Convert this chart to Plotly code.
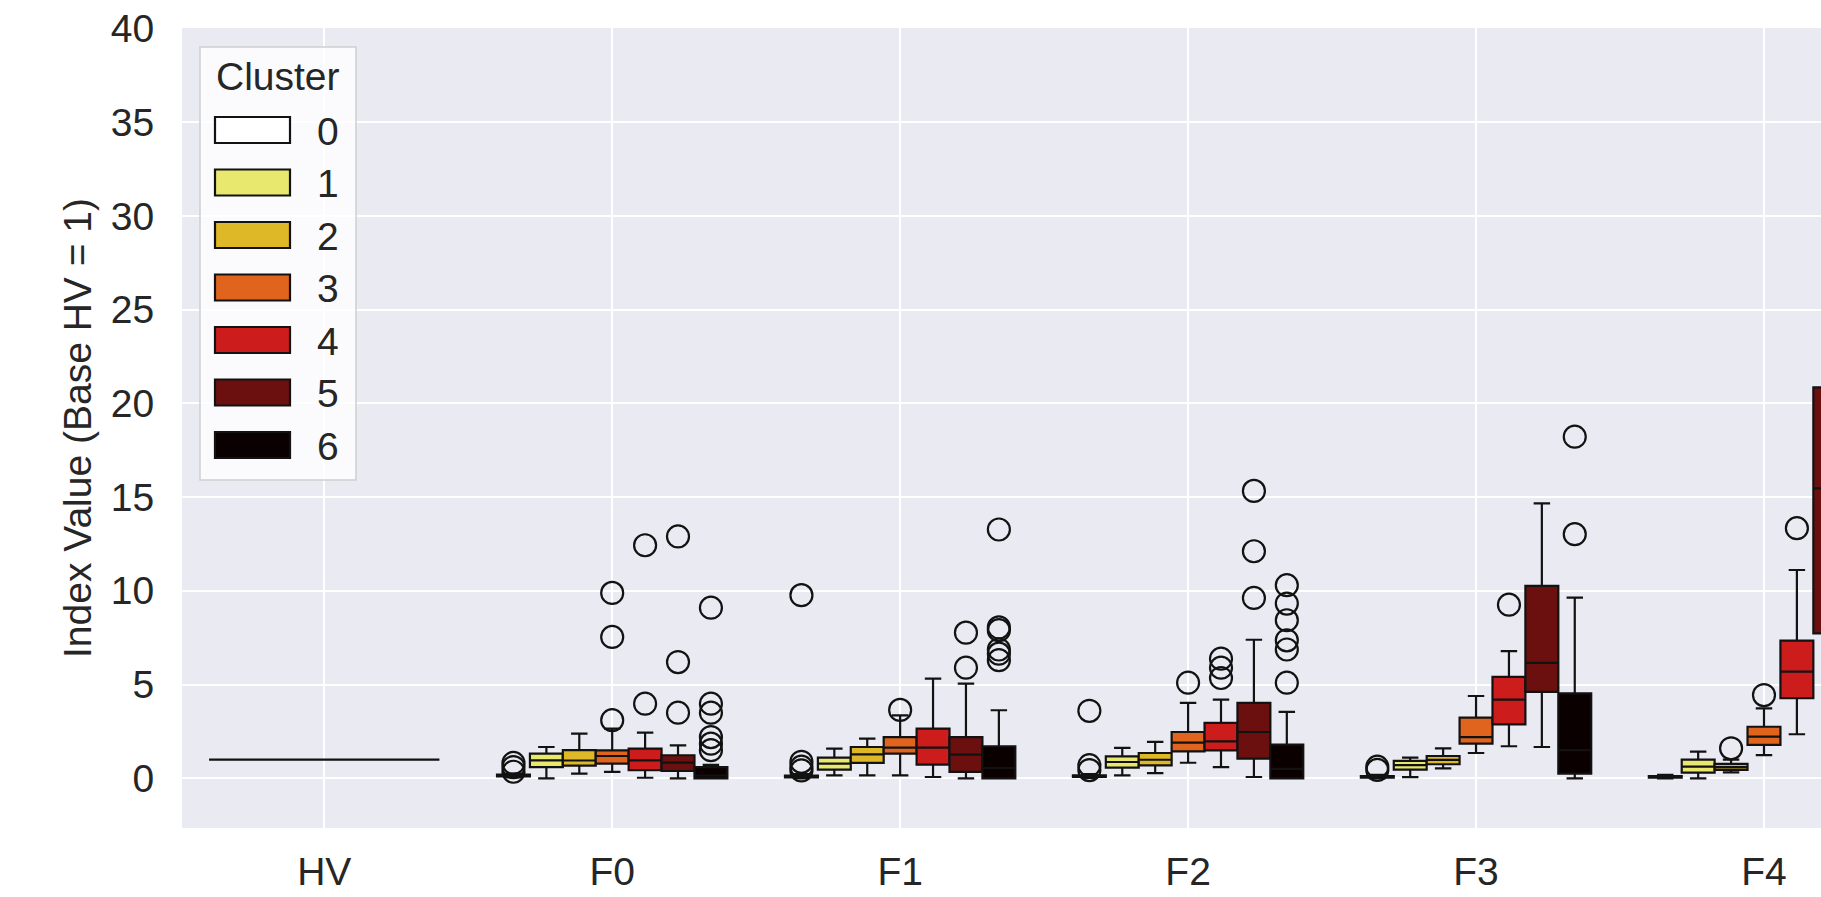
import plotly.graph_objects as go

# ---------------- data ----------------
categories = ["HV", "F0", "F1", "F2", "F3", "F4"]
f_cats = ["F0", "F1", "F2", "F3", "F4"]
clusters = ["0", "1", "2", "3", "4", "5", "6"]
cluster_colors = ["#ffffff", "#e8e86e", "#deb826", "#e0641e", "#cd1c1c", "#6b0f0f", "#0b0000"]

hv_value = [1.0]

# rows = clusters 0..6, columns = F0..F4 (None = not present)
q1 = [
    [0.10, 0.05, 0.07, 0.04, 0.03],
    [0.60, 0.46, 0.57, 0.46, 0.30],
    [0.68, 0.82, 0.69, 0.75, 0.45],
    [0.78, 1.32, 1.44, 1.85, 1.78],
    [0.43, 0.73, 1.49, 2.88, 4.27],
    [0.39, 0.34, 1.05, 4.61, 7.73],
    [0.00, 0.00, 0.00, 0.25, None],
]
median = [
    [0.15, 0.10, 0.12, 0.08, 0.07],
    [0.96, 0.78, 0.87, 0.70, 0.62],
    [0.95, 1.28, 0.99, 0.98, 0.60],
    [1.19, 1.64, 1.90, 2.20, 2.22],
    [0.96, 1.64, 1.97, 4.20, 5.69],
    [0.84, 1.26, 2.47, 6.16, 15.47],
    [0.15, 0.55, 0.50, 1.50, None],
]
q3 = [
    [0.20, 0.15, 0.16, 0.12, 0.12],
    [1.32, 1.10, 1.17, 0.93, 1.00],
    [1.50, 1.67, 1.35, 1.19, 0.77],
    [1.49, 2.20, 2.47, 3.24, 2.75],
    [1.58, 2.65, 2.96, 5.41, 7.34],
    [1.23, 2.20, 4.02, 10.26, 20.85],
    [0.60, 1.71, 1.80, 4.53, None],
]
lower_whisker = [
    [0.05, 0.00, 0.02, 0.00, 0.00],
    [0.00, 0.16, 0.16, 0.06, 0.00],
    [0.25, 0.16, 0.28, 0.53, 0.32],
    [0.34, 0.16, 0.83, 1.35, 1.24],
    [0.03, 0.07, 0.60, 1.71, 2.35],
    [0.00, 0.00, 0.07, 1.67, 2.50],
    [0.00, 0.00, 0.00, 0.00, None],
]
upper_whisker = [
    [0.25, 0.22, 0.22, 0.18, 0.18],
    [1.67, 1.58, 1.62, 1.10, 1.42],
    [2.38, 2.12, 1.94, 1.60, 1.00],
    [2.65, 3.36, 4.02, 4.39, 3.73],
    [2.44, 5.32, 4.20, 6.78, 11.11],
    [1.76, 5.05, 7.39, 14.66, 38.40],
    [0.72, 3.63, 3.54, 9.64, None],
]
outliers = [
    [[0.35, 0.60, 0.82], [0.42, 0.62, 0.88, 9.77], [0.44, 0.70, 3.60], [0.45, 0.62], []],
    [[], [], [], [], []],
    [[], [], [], [], [1.60]],
    [[3.10, 7.54, 9.89], [3.65], [5.10], [], [4.44]],
    [[3.98, 12.43], [], [5.35, 5.90, 6.38], [9.26], [13.34]],
    [[3.50, 6.20, 12.90], [5.90, 7.77], [9.62, 12.11, 15.33], [], []],
    [[1.50, 1.85, 2.20, 3.50, 3.98, 9.10], [6.30, 6.65, 6.87, 7.90, 8.05, 13.27],
     [5.10, 6.87, 7.36, 8.43, 9.32, 10.30], [13.02, 18.22], []],
]

y_ticks = [0, 5, 10, 15, 20, 25, 30, 35, 40]

# ---------------- styling ----------------
W, H = 1821, 897
ML, MR, MT, MB = 182, 0, 28, 69
TEXT = "#262626"
EDGE = "#121212"
FONT = "Liberation Sans, Arial, Helvetica, sans-serif"
FS = 39
LW = 2.2

fig = go.Figure()

# HV reference: degenerate box, alone in its own alignment group (full width)
fig.add_trace(go.Box(
    x=["HV"], q1=hv_value, median=hv_value, q3=hv_value,
    lowerfence=hv_value, upperfence=hv_value,
    fillcolor="rgba(0,0,0,0)", line=dict(color=EDGE, width=LW),
    alignmentgroup="hv", offsetgroup="hv", showlegend=False, name="HV",
))

for k, c in enumerate(clusters):
    idx = [i for i, v in enumerate(q1[k]) if v is not None]
    fig.add_trace(go.Box(
        x=[f_cats[i] for i in idx],
        q1=[q1[k][i] for i in idx],
        median=[median[k][i] for i in idx],
        q3=[q3[k][i] for i in idx],
        lowerfence=[lower_whisker[k][i] for i in idx],
        upperfence=[upper_whisker[k][i] for i in idx],
        fillcolor=cluster_colors[k],
        line=dict(color=EDGE, width=LW),
        whiskerwidth=0.5,
        boxpoints=False,
        alignmentgroup="clusters", offsetgroup=c,
        name=c, showlegend=False,
    ))
    ox, oy = [], []
    for i, vals in enumerate(outliers[k]):
        for v in vals:
            ox.append(f_cats[i])
            oy.append(v)
    if oy:
        fig.add_trace(go.Box(
            x=ox, y=oy,
            boxpoints="all", jitter=0, pointpos=0,
            fillcolor="rgba(0,0,0,0)",
            line=dict(color="rgba(0,0,0,0)", width=0),
            marker=dict(symbol="circle-open", size=22, color=EDGE,
                        line=dict(width=LW, color=EDGE)),
            alignmentgroup="clusters", offsetgroup=c,
            name=c + " outliers", showlegend=False, hoverinfo="y",
        ))

# ---------------- hand-built legend (layout decoration) ----------------
PW = W - ML - MR
PH = H - MT - MB


def px_x(px):
    return (px - ML) / PW


def px_y(py):
    return (H - MB - py) / PH


shapes = [dict(type="rect", xref="paper", yref="paper",
               x0=px_x(200), x1=px_x(356), y0=px_y(480), y1=px_y(47),
               fillcolor="rgba(255,255,255,0.8)",
               line=dict(color="#d0d0d0", width=1.5), layer="above")]
annotations = [dict(text="Cluster", xref="paper", yref="paper",
                    x=px_x(278), y=px_y(76), xanchor="center", yanchor="middle",
                    showarrow=False, font=dict(family=FONT, size=FS, color=TEXT))]
row_h = 52.5
for k, c in enumerate(clusters):
    cy = 130 + k * row_h
    shapes.append(dict(type="rect", xref="paper", yref="paper",
                       x0=px_x(215), x1=px_x(290), y0=px_y(cy + 13), y1=px_y(cy - 13),
                       fillcolor=cluster_colors[k], line=dict(color=EDGE, width=2.2),
                       layer="above"))
    annotations.append(dict(text=c, xref="paper", yref="paper",
                            x=px_x(328), y=px_y(cy + 1), xanchor="center", yanchor="middle",
                            showarrow=False, font=dict(family=FONT, size=FS, color=TEXT)))

fig.update_layout(
    width=W, height=H,
    margin=dict(l=ML, r=MR, t=MT, b=MB, autoexpand=False),
    paper_bgcolor="white", plot_bgcolor="#EAEAF2",
    font=dict(family=FONT, size=FS, color=TEXT),
    boxmode="group", boxgap=0.2, boxgroupgap=0.0,
    showlegend=False,
    shapes=shapes, annotations=annotations,
)
fig.update_xaxes(
    type="category", categoryorder="array", categoryarray=categories,
    range=[-0.494, 5.198],
    showgrid=True, gridcolor="white", gridwidth=2,
    showline=False, zeroline=False,
    ticks="outside", ticklen=9, tickcolor="rgba(0,0,0,0)",
    tickfont=dict(family=FONT, size=FS, color=TEXT),
)
fig.update_yaxes(
    range=[-2.65, 40.02],
    tickvals=y_ticks, ticktext=[str(t) for t in y_ticks],
    showgrid=True, gridcolor="white", gridwidth=2,
    showline=False, zeroline=False,
    ticks="outside", ticklen=19, tickcolor="rgba(0,0,0,0)",
    tickfont=dict(family=FONT, size=FS, color=TEXT),
    title=dict(text="Index Value (Base HV = 1)", standoff=7,
               font=dict(family=FONT, size=FS, color=TEXT)),
    automargin=False,
)

fig.write_html("out.html", config={"displayModeBar": False},
               post_script="document.body.style.margin='0';")
